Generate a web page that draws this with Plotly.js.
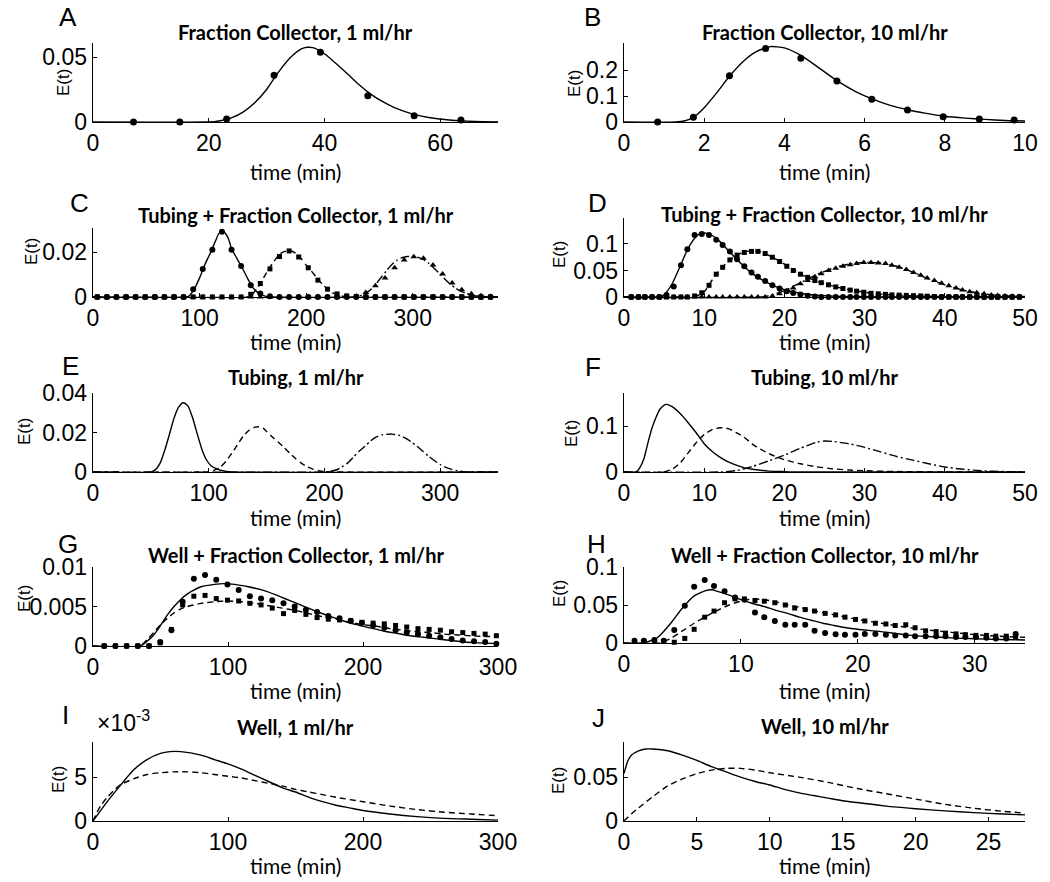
<!DOCTYPE html>
<html>
<head>
<meta charset="utf-8">
<script src="https://cdn.plot.ly/plotly-3.0.1.min.js"></script>
<style>
  html, body { margin: 0; padding: 0; background: #fff; }
  #plot { width: 1050px; height: 882px; }
</style>
</head>
<body>
<div id="plot"></div>
<script>
// ---- data (time in min, E(t)) ----

// A: fraction collector, 1 ml/hr
const aDataT = [7, 15, 23.1, 31.3, 39.3, 47.5, 55.5, 63.6];
const aDataE = [0, 0, 0.0023, 0.036, 0.0536, 0.0202, 0.0049, 0.0015];
const aFitT = [0, 21, 22, 24, 26, 28, 30, 32, 34, 36, 37, 38, 40, 42, 44, 46, 48, 50, 52, 55, 58, 62, 66, 70];
const aFitE = [0, 0.0003, 0.001, 0.0033, 0.0078, 0.015, 0.025, 0.038, 0.049, 0.0562, 0.0575, 0.0572, 0.0525, 0.045, 0.037, 0.0287, 0.0215, 0.0158, 0.0113, 0.0065, 0.0035, 0.0013, 0.0004, 0.0001];

// B: fraction collector, 10 ml/hr
const bDataT = [0.84, 1.73, 2.63, 3.53, 4.41, 5.31, 6.18, 7.07, 7.96, 8.86, 9.73];
const bDataE = [0, 0.018, 0.178, 0.283, 0.245, 0.158, 0.088, 0.046, 0.02, 0.0115, 0.0077];
const bFitT = [0, 1.3, 1.5, 1.75, 2.0, 2.3, 2.65, 3.0, 3.3, 3.65, 4.0, 4.4, 4.8, 5.3, 5.8, 6.2, 6.6, 7.1, 7.5, 8.0, 8.5, 9.0, 9.5, 10];
const bFitE = [0, 0, 0.004, 0.02, 0.055, 0.11, 0.18, 0.237, 0.271, 0.29, 0.285, 0.257, 0.215, 0.16, 0.115, 0.088, 0.066, 0.046, 0.034, 0.022, 0.015, 0.01, 0.006, 0.004];

// C: tubing + fraction collector, 1 ml/hr (three tubing lengths)
const cT = [4, 13, 22, 31, 40, 49, 58, 67, 76, 85, 94, 103, 112, 121, 130, 139, 148, 157, 166, 175, 184, 193, 202, 211, 220, 229, 238, 247, 256, 265, 274, 283, 292, 301, 310, 319, 328, 337, 346, 355, 364, 373];
const cCircE = [0, 0, 0, 0, 0, 0, 0, 0, 0, 0, 0.0035, 0.0125, 0.021, 0.029, 0.021, 0.0138, 0.0052, 0.0016, 0.0003, 0, 0, 0, 0, 0, 0, 0, 0, 0, 0, 0, 0, 0, 0, 0, 0, 0, 0, 0, 0, 0, 0, 0];
const cSqE = [0, 0, 0, 0, 0, 0, 0, 0, 0, 0, 0, 0, 0, 0, 0, 0, 0.0012, 0.006, 0.0125, 0.018, 0.0205, 0.0178, 0.013, 0.0075, 0.0035, 0.0014, 0.0005, 0.0002, 0, 0, 0, 0, 0, 0, 0, 0, 0, 0, 0, 0, 0, 0];
const cTriE = [0, 0, 0, 0, 0, 0, 0, 0, 0, 0, 0, 0, 0, 0, 0, 0, 0, 0, 0, 0, 0, 0, 0, 0, 0, 0, 0, 0.0005, 0.002, 0.005, 0.0085, 0.013, 0.0165, 0.0179, 0.0172, 0.0142, 0.0102, 0.0062, 0.0032, 0.0015, 0.0006, 0.0002];
const cFit1T = [0, 88, 90, 95, 100, 105, 110, 115, 118, 121, 124, 127, 130, 135, 140, 145, 150, 155, 160, 165, 380];
const cFit1E = [0, 0, 0.0004, 0.0035, 0.0085, 0.0145, 0.0195, 0.025, 0.0282, 0.0292, 0.0285, 0.026, 0.0215, 0.0172, 0.013, 0.0083, 0.0042, 0.0018, 0.0006, 0.0001, 0];
const cFit2T = [0, 145, 150, 155, 160, 165, 170, 175, 180, 185, 190, 195, 200, 205, 210, 215, 220, 225, 230, 235, 240, 380];
const cFit2E = [0, 0, 0.0015, 0.0045, 0.0085, 0.0125, 0.016, 0.019, 0.0203, 0.0206, 0.0195, 0.0172, 0.0142, 0.0115, 0.0085, 0.0058, 0.0035, 0.0018, 0.0008, 0.0003, 0, 0];
const cFit3T = [0, 245, 250, 255, 260, 265, 270, 275, 280, 285, 290, 295, 300, 305, 310, 315, 320, 325, 330, 335, 340, 345, 350, 355, 360, 370, 380];
const cFit3E = [0, 0, 0.0005, 0.0015, 0.003, 0.0055, 0.0085, 0.0115, 0.0142, 0.0163, 0.0175, 0.018, 0.018, 0.0176, 0.0167, 0.015, 0.0128, 0.0105, 0.008, 0.0058, 0.004, 0.0026, 0.0016, 0.0009, 0.0005, 0.0001, 0];

// D: tubing + fraction collector, 10 ml/hr
const dT = [0.9, 1.8, 2.6, 3.5, 4.4, 5.3, 6.2, 7.1, 7.9, 8.8, 9.7, 10.6, 11.5, 12.3, 13.2, 14.1, 15, 15.9, 16.7, 17.6, 18.5, 19.4, 20.3, 21.1, 22, 22.9, 23.8, 24.6, 25.5, 26.4, 27.3, 28.2, 29, 29.9, 30.8, 31.7, 32.6, 33.4, 34.3, 35.2, 36.1, 37, 37.8, 38.7, 39.6, 40.5, 41.4, 42.2, 43.1, 44, 44.9, 45.8, 46.6, 47.5, 48.4, 49.3];
const dCircE = [0, 0, 0, 0, 0, 0.004, 0.02, 0.06, 0.09, 0.117, 0.119, 0.117, 0.108, 0.098, 0.086, 0.071, 0.058, 0.046, 0.038, 0.03, 0.022, 0.016, 0.011, 0.0075, 0.0045, 0.0025, 0.001, 0, 0, 0, 0, 0, 0, 0, 0, 0, 0, 0, 0, 0, 0, 0, 0, 0, 0, 0, 0, 0, 0, 0, 0, 0, 0, 0, 0, 0];
const dSqE = [0, 0, 0, 0, 0, 0, 0, 0, 0, 0.002, 0.008, 0.022, 0.043, 0.056, 0.07, 0.079, 0.084, 0.086, 0.086, 0.082, 0.075, 0.067, 0.058, 0.05, 0.043, 0.037, 0.031, 0.027, 0.023, 0.019, 0.016, 0.013, 0.011, 0.009, 0.007, 0.006, 0.005, 0.004, 0.0035, 0.003, 0.0025, 0.002, 0.0015, 0.001, 0, 0, 0, 0, 0, 0, 0, 0, 0, 0, 0, 0];
const dTriE = [0, 0, 0, 0, 0, 0, 0, 0, 0, 0, 0, 0, 0, 0, 0, 0, 0, 0, 0, 0, 0.002, 0.006, 0.011, 0.017, 0.025, 0.031, 0.038, 0.044, 0.05, 0.054, 0.058, 0.061, 0.063, 0.065, 0.065, 0.064, 0.063, 0.06, 0.056, 0.052, 0.046, 0.041, 0.036, 0.031, 0.026, 0.021, 0.017, 0.013, 0.01, 0.008, 0.006, 0.004, 0.003, 0.002, 0.0015, 0.001];
const dFit1T = [0, 4.5, 5, 6, 7, 8, 9, 9.5, 10, 11, 12, 13, 14, 15, 16, 17, 18, 19, 20, 22, 24, 26, 28, 32, 40, 50];
const dFit1E = [0, 0, 0.004, 0.025, 0.058, 0.092, 0.114, 0.12, 0.121, 0.116, 0.104, 0.088, 0.072, 0.057, 0.044, 0.034, 0.026, 0.019, 0.014, 0.007, 0.0035, 0.0017, 0.0008, 0.0002, 0, 0];
const dFit2T = [0, 9, 10, 11, 12, 13, 14, 15, 16, 17, 18, 19, 20, 21, 22, 23, 24, 25, 26, 27, 28, 30, 32, 35, 40, 45, 50];
const dFit2E = [0, 0.002, 0.01, 0.032, 0.052, 0.067, 0.078, 0.085, 0.087, 0.085, 0.079, 0.071, 0.062, 0.053, 0.043, 0.036, 0.03, 0.025, 0.021, 0.017, 0.014, 0.009, 0.0055, 0.0028, 0.0009, 0.0003, 0.0001];
const dFit3T = [0, 17, 18, 20, 22, 24, 26, 28, 30, 32, 34, 36, 38, 40, 42, 44, 46, 48, 50];
const dFit3E = [0, 0, 0.002, 0.012, 0.027, 0.042, 0.054, 0.062, 0.065, 0.064, 0.058, 0.047, 0.034, 0.023, 0.014, 0.008, 0.004, 0.002, 0.001];

// E: tubing only, 1 ml/hr
const eFit1T = [0, 50, 54, 58, 62, 66, 70, 74, 78, 82, 86, 90, 94, 98, 102, 106, 110, 115, 120, 350];
const eFit1E = [0, 0, 0.0012, 0.0045, 0.011, 0.019, 0.0272, 0.0328, 0.0351, 0.0335, 0.0276, 0.0195, 0.0117, 0.0062, 0.0032, 0.0018, 0.0009, 0.0003, 0, 0];
const eFit2T = [0, 95, 100, 105, 110, 115, 120, 125, 130, 135, 140, 143, 147, 150, 155, 160, 165, 170, 175, 180, 185, 190, 195, 200, 350];
const eFit2E = [0, 0, 0.0002, 0.0009, 0.0025, 0.0055, 0.0095, 0.014, 0.0182, 0.0212, 0.0227, 0.0229, 0.0222, 0.0205, 0.0177, 0.0152, 0.0125, 0.0095, 0.0068, 0.0045, 0.0027, 0.0015, 0.0007, 0.0002, 0];
const eFit3T = [0, 200, 205, 210, 215, 220, 225, 230, 235, 240, 245, 250, 258, 265, 270, 275, 280, 285, 290, 295, 300, 305, 310, 315, 320, 325, 350];
const eFit3E = [0, 0, 0.0003, 0.001, 0.0025, 0.0045, 0.0075, 0.0105, 0.013, 0.0158, 0.0178, 0.0188, 0.0192, 0.0185, 0.0172, 0.0153, 0.013, 0.0105, 0.008, 0.0058, 0.0038, 0.0023, 0.0013, 0.0006, 0.0002, 0, 0];

// F: tubing only, 10 ml/hr
const fFit1T = [0, 1.5, 2, 2.5, 3, 3.5, 4, 4.5, 5.2, 6, 7, 8, 9, 10, 11, 12, 13, 14, 15, 16, 18, 20, 22, 50];
const fFit1E = [0, 0, 0.01, 0.03, 0.065, 0.097, 0.12, 0.138, 0.148, 0.143, 0.128, 0.108, 0.086, 0.062, 0.045, 0.032, 0.022, 0.015, 0.009, 0.006, 0.002, 0.0008, 0, 0];
const fFit2T = [0, 5, 6, 7, 8, 9, 10, 11, 12, 13, 14, 15, 16, 17, 18, 19, 20, 22, 24, 26, 28, 30, 34, 40, 50];
const fFit2E = [0, 0, 0.006, 0.02, 0.042, 0.064, 0.082, 0.093, 0.097, 0.095, 0.086, 0.076, 0.061, 0.05, 0.041, 0.033, 0.027, 0.018, 0.0115, 0.007, 0.0045, 0.0028, 0.001, 0.0002, 0];
const fFit3T = [0, 12, 14, 16, 18, 20, 22, 24, 25, 26, 28, 30, 32, 34, 36, 38, 40, 42, 44, 46, 48, 50];
const fFit3E = [0, 0, 0.003, 0.012, 0.024, 0.037, 0.052, 0.065, 0.068, 0.067, 0.062, 0.054, 0.044, 0.034, 0.026, 0.018, 0.011, 0.0065, 0.0035, 0.0017, 0.0007, 0.0003];

// G: well + fraction collector, 1 ml/hr
const gT = [8.3, 16.6, 24.9, 33.2, 41.5, 49.8, 58.1, 66.4, 74.7, 83, 91.3, 99.6, 107.9, 116.2, 124.5, 132.8, 141.1, 149.4, 157.7, 166, 174.3, 182.6, 190.9, 199.2, 207.5, 215.8, 224.1, 232.4, 240.7, 249, 257.3, 265.6, 273.9, 282.2, 290.5, 298.8];
const gCircE = [0, 0, 0, 0, 0, 0.0005, 0.002, 0.0056, 0.0085, 0.009, 0.0084, 0.0078, 0.0071, 0.0063, 0.006, 0.0058, 0.0054, 0.005, 0.0046, 0.0043, 0.0038, 0.0035, 0.0032, 0.0029, 0.0026, 0.0023, 0.002, 0.0017, 0.0015, 0.0013, 0.0011, 0.0009, 0.0007, 0.0006, 0.0005, 0.0003];
const gSqE = [0, 0, 0, 0, 0, 0.0004, 0.0021, 0.0052, 0.0063, 0.0064, 0.006, 0.0058, 0.0057, 0.0054, 0.0052, 0.0048, 0.0041, 0.0045, 0.004, 0.0036, 0.0034, 0.0033, 0.0032, 0.003, 0.0029, 0.0028, 0.0026, 0.0024, 0.0022, 0.0021, 0.002, 0.0018, 0.0017, 0.0016, 0.0015, 0.0013];
const gFit1T = [0, 35, 40, 45, 50, 55, 60, 65, 70, 75, 80, 90, 97, 105, 115, 125, 135, 145, 155, 165, 175, 185, 195, 205, 215, 225, 235, 245, 255, 265, 275, 285, 300];
const gFit1E = [0, 0, 0.0006, 0.0014, 0.0026, 0.0039, 0.005, 0.0059, 0.0066, 0.0071, 0.0075, 0.0078, 0.0079, 0.0078, 0.0075, 0.0071, 0.0065, 0.0058, 0.0051, 0.0044, 0.0038, 0.0032, 0.0027, 0.0023, 0.0019, 0.0016, 0.0013, 0.0011, 0.0009, 0.0007, 0.0005, 0.0004, 0.0003];
const gFit2T = [0, 35, 40, 45, 50, 55, 60, 65, 70, 80, 90, 100, 110, 120, 130, 140, 150, 160, 170, 180, 190, 200, 210, 220, 230, 240, 250, 260, 270, 280, 290, 300];
const gFit2E = [0, 0, 0.0008, 0.0017, 0.0027, 0.0035, 0.0042, 0.0047, 0.005, 0.0054, 0.0056, 0.0057, 0.0056, 0.0054, 0.0051, 0.0048, 0.0045, 0.0041, 0.0037, 0.0034, 0.003, 0.0027, 0.0025, 0.0022, 0.002, 0.0018, 0.0017, 0.0015, 0.0014, 0.0013, 0.0012, 0.0012];

// H: well + fraction collector, 10 ml/hr
const hT = [0.9, 1.7, 2.6, 3.4, 4.3, 5.2, 6.0, 6.9, 7.7, 8.6, 9.5, 10.3, 11.2, 12.0, 12.9, 13.8, 14.6, 15.5, 16.3, 17.2, 18.1, 18.9, 19.8, 20.6, 21.5, 22.4, 23.2, 24.1, 24.9, 25.8, 26.7, 27.5, 28.4, 29.2, 30.1, 31.0, 31.8, 32.7, 33.5];
const hCircE = [0.003, 0.003, 0.004, 0.003, 0.017, 0.049, 0.074, 0.083, 0.075, 0.068, 0.06, 0.057, 0.04, 0.034, 0.029, 0.024, 0.024, 0.024, 0.016, 0.013, 0.0115, 0.011, 0.011, 0.012, 0.012, 0.011, 0.01, 0.01, 0.009, 0.009, 0.009, 0.009, 0.008, 0.008, 0.008, 0.007, 0.006, 0.006, 0.012];
const hSqE = [0.002, 0.002, 0.002, 0.002, 0.001, 0.006, 0.018, 0.034, 0.042, 0.053, 0.058, 0.058, 0.056, 0.055, 0.053, 0.05, 0.046, 0.044, 0.042, 0.039, 0.037, 0.034, 0.031, 0.029, 0.026, 0.025, 0.023, 0.024, 0.02, 0.016, 0.015, 0.013, 0.012, 0.011, 0.01, 0.01, 0.009, 0.009, 0.008];
const hFit1T = [0, 1.5, 2.5, 3, 4, 5, 6, 7, 7.5, 8, 9, 10, 11, 12, 13, 14, 15, 16, 17, 18, 19, 20, 22, 24, 26, 28, 30, 32, 34.3];
const hFit1E = [0, 0, 0.004, 0.009, 0.026, 0.046, 0.062, 0.069, 0.07, 0.068, 0.063, 0.057, 0.052, 0.048, 0.043, 0.039, 0.034, 0.03, 0.026, 0.023, 0.02, 0.018, 0.015, 0.011, 0.0085, 0.0068, 0.0055, 0.0047, 0.004];
const hFit2T = [0, 3, 4, 5, 6, 7, 8, 9, 10, 11, 12, 13, 14, 15, 16, 17, 18, 19, 20, 22, 24, 26, 28, 30, 32, 34.3];
const hFit2E = [0, 0, 0.006, 0.016, 0.026, 0.035, 0.043, 0.05, 0.055, 0.058, 0.057, 0.054, 0.05, 0.047, 0.043, 0.04, 0.037, 0.034, 0.031, 0.026, 0.021, 0.017, 0.014, 0.011, 0.009, 0.0075];

// I: well only, 1 ml/hr
const iFit1T = [0, 10, 20, 30, 40, 50, 57, 65, 80, 90, 100, 110, 120, 130, 140, 150, 160, 170, 180, 190, 200, 220, 240, 260, 280, 300];
const iFit1E = [0, 0.0021, 0.004, 0.0058, 0.007, 0.0077, 0.0079, 0.0079, 0.0075, 0.007, 0.0065, 0.0059, 0.0052, 0.0045, 0.0038, 0.0033, 0.0027, 0.0022, 0.0018, 0.0015, 0.0012, 0.0008, 0.0005, 0.0003, 0.0002, 0.0001];
const iFit2T = [0, 3, 6, 10, 15, 20, 30, 40, 50, 60, 70, 80, 90, 100, 110, 120, 130, 140, 150, 160, 170, 180, 200, 220, 240, 260, 280, 300];
const iFit2E = [0, 0.001, 0.0018, 0.0026, 0.0034, 0.0041, 0.0048, 0.0053, 0.0055, 0.0056, 0.0056, 0.0055, 0.0053, 0.0051, 0.0049, 0.0046, 0.0043, 0.004, 0.0036, 0.0033, 0.003, 0.0027, 0.0022, 0.0017, 0.0013, 0.001, 0.0008, 0.0006];

// J: well only, 10 ml/hr
const jFit1T = [0, 0.25, 0.5, 1, 1.5, 2, 3, 4, 5, 6, 7, 8, 9, 10, 11, 12, 13, 14, 15, 16, 17, 18, 19, 20, 22, 24, 26, 27.5];
const jFit1E = [0.054, 0.068, 0.075, 0.08, 0.082, 0.082, 0.08, 0.075, 0.069, 0.062, 0.056, 0.05, 0.045, 0.041, 0.036, 0.032, 0.029, 0.026, 0.023, 0.021, 0.019, 0.017, 0.0155, 0.014, 0.0115, 0.0095, 0.008, 0.007];
const jFit2T = [0, 0.5, 1, 2, 3, 4, 5, 6, 7, 8, 9, 10, 12, 14, 16, 18, 20, 22, 24, 26, 27.5];
const jFit2E = [0, 0.008, 0.015, 0.028, 0.04, 0.048, 0.054, 0.058, 0.06, 0.06, 0.058, 0.055, 0.05, 0.044, 0.037, 0.031, 0.025, 0.019, 0.0145, 0.011, 0.009];

// ---- panel layout (pixel boxes on the 1050x882 page) ----
const W = 1050, H = 882;
const panels = [
  { letter: 'A', title: 'Fraction Collector, 1 ml/hr', xr: [0, 70], yr: [0, 0.0608], xt: [0, 20, 40, 60], yt: [0, 0.05],
    box: [93, 498, 43, 122], lpos: [68, 17], tpos: 32, epos: [63, 83], xlab: 171 },
  { letter: 'B', title: 'Fraction Collector, 10 ml/hr', xr: [0, 10], yr: [0, 0.304], xt: [0, 2, 4, 6, 8, 10], yt: [0, 0.1, 0.2],
    box: [624, 1025, 43, 122], lpos: [592, 17], tpos: 32, epos: [574, 84], xlab: 171 },
  { letter: 'C', title: 'Tubing + Fraction Collector, 1 ml/hr', xr: [0, 380], yr: [0, 0.0307], xt: [0, 100, 200, 300], yt: [0, 0.02],
    box: [93, 498, 228, 297], lpos: [79, 203], tpos: 215, epos: [31, 252], xlab: 341 },
  { letter: 'D', title: 'Tubing + Fraction Collector, 10 ml/hr', xr: [0, 50], yr: [0, 0.149], xt: [0, 10, 20, 30, 40, 50], yt: [0, 0.05, 0.1],
    box: [624, 1025, 218, 297], lpos: [597, 203], tpos: 214, epos: [559, 255], xlab: 341 },
  { letter: 'E', title: 'Tubing, 1 ml/hr', xr: [0, 350], yr: [0, 0.04], xt: [0, 100, 200, 300], yt: [0, 0.02, 0.04],
    box: [93, 498, 393, 472], lpos: [70, 366], tpos: 377, epos: [24, 432], xlab: 517 },
  { letter: 'F', title: 'Tubing, 10 ml/hr', xr: [0, 50], yr: [0, 0.173], xt: [0, 10, 20, 30, 40, 50], yt: [0, 0.1],
    box: [624, 1025, 393, 472], lpos: [593, 367], tpos: 377, epos: [571, 434], xlab: 517 },
  { letter: 'G', title: 'Well + Fraction Collector, 1 ml/hr', xr: [0, 300], yr: [0, 0.01], xt: [0, 100, 200, 300], yt: [0, 0.005, 0.01],
    box: [93, 498, 567, 646], lpos: [68, 544], tpos: 555, epos: [24, 599], xlab: 690 },
  { letter: 'H', title: 'Well + Fraction Collector, 10 ml/hr', xr: [0, 34.3], yr: [0, 0.1], xt: [0, 10, 20, 30], yt: [0, 0.05, 0.1],
    box: [624, 1025, 567, 643], lpos: [596, 544], tpos: 555, epos: [559, 594], xlab: 690 },
  { letter: 'I', title: 'Well, 1 ml/hr', xr: [0, 300], yr: [0, 0.009], xt: [0, 100, 200, 300], yt: [0, 0.005], ytext: ['0', '5'],
    box: [93, 498, 742, 821], lpos: [65, 715], tpos: 727, epos: [58, 780], xlab: 865 },
  { letter: 'J', title: 'Well, 10 ml/hr', xr: [0, 27.5], yr: [0, 0.09], xt: [0, 5, 10, 15, 20, 25], yt: [0, 0.05],
    box: [624, 1025, 742, 821], lpos: [598, 718], tpos: 726, epos: [558, 781], xlab: 865 }
];

const DASH = '6px,4px';
const DASHDOT = '9px,3px,2px,3px';

function axKey(n) { return n === 1 ? '' : String(n); }

function fit(n, t, e, dash) {
  return {
    type: 'scatter', mode: 'lines', x: t, y: e,
    xaxis: 'x' + axKey(n), yaxis: 'y' + axKey(n),
    line: { color: 'black', width: 1.4, dash: dash || 'solid', shape: 'spline', smoothing: 0.6 },
    hoverinfo: 'skip'
  };
}

function dots(n, t, e, symbol, size) {
  return {
    type: 'scatter', mode: 'markers', x: t, y: e,
    xaxis: 'x' + axKey(n), yaxis: 'y' + axKey(n),
    marker: { symbol: symbol, size: size, color: 'black', line: { width: 0 } },
    cliponaxis: false, hoverinfo: 'skip'
  };
}

const data = [
  fit(1, aFitT, aFitE), dots(1, aDataT, aDataE, 'circle', 7),
  fit(2, bFitT, bFitE), dots(2, bDataT, bDataE, 'circle', 7),

  fit(3, cFit1T, cFit1E), fit(3, cFit2T, cFit2E, DASH), fit(3, cFit3T, cFit3E, DASHDOT),
  dots(3, cT, cCircE, 'circle', 6), dots(3, cT, cSqE, 'square', 5), dots(3, cT, cTriE, 'triangle-up', 6),

  fit(4, dFit1T, dFit1E), fit(4, dFit2T, dFit2E, DASH), fit(4, dFit3T, dFit3E, DASHDOT),
  dots(4, dT, dCircE, 'circle', 6), dots(4, dT, dSqE, 'square', 5), dots(4, dT, dTriE, 'triangle-up', 6),

  fit(5, eFit1T, eFit1E), fit(5, eFit2T, eFit2E, DASH), fit(5, eFit3T, eFit3E, DASHDOT),
  fit(6, fFit1T, fFit1E), fit(6, fFit2T, fFit2E, DASH), fit(6, fFit3T, fFit3E, DASHDOT),

  fit(7, gFit1T, gFit1E), fit(7, gFit2T, gFit2E, DASH),
  dots(7, gT, gCircE, 'circle', 6), dots(7, gT, gSqE, 'square', 5),

  fit(8, hFit1T, hFit1E), fit(8, hFit2T, hFit2E, DASH),
  dots(8, hT, hCircE, 'circle', 6), dots(8, hT, hSqE, 'square', 5),

  fit(9, iFit1T, iFit1E), fit(9, iFit2T, iFit2E, DASH),
  fit(10, jFit1T, jFit1E), fit(10, jFit2T, jFit2E, DASH)
];

const tickFont = { family: 'Liberation Sans, Arial, sans-serif', size: 23, color: 'black' };
const layout = {
  width: W, height: H,
  margin: { l: 0, r: 0, t: 0, b: 0 },
  paper_bgcolor: 'white', plot_bgcolor: 'white',
  showlegend: false, hovermode: false,
  annotations: []
};

panels.forEach((p, i) => {
  const n = i + 1, k = axKey(n);
  const [x0, x1, y0, y1] = p.box;
  layout['xaxis' + k] = {
    domain: [x0 / W, x1 / W], range: p.xr, anchor: 'y' + k,
    tickmode: 'array', tickvals: p.xt,
    showline: true, linecolor: 'black', linewidth: 1.4, mirror: false,
    ticks: 'inside', ticklen: 4, tickcolor: 'black',
    showgrid: false, zeroline: false, tickfont: tickFont, fixedrange: true
  };
  const yax = {
    domain: [1 - y1 / H, 1 - y0 / H], range: p.yr, anchor: 'x' + k,
    tickmode: 'array', tickvals: p.yt,
    showline: true, linecolor: 'black', linewidth: 1.4, mirror: false,
    ticks: 'inside', ticklen: 4, tickcolor: 'black',
    showgrid: false, zeroline: false, tickfont: tickFont, fixedrange: true
  };
  if (p.ytext) yax.ticktext = p.ytext;
  layout['yaxis' + k] = yax;
  const cx = (x0 + x1) / 2;
  layout.annotations.push(
    { text: p.letter, x: p.lpos[0] / W, y: 1 - p.lpos[1] / H, xref: 'paper', yref: 'paper',
      showarrow: false, xanchor: 'center', yanchor: 'middle',
      font: { family: 'Liberation Sans, Arial, sans-serif', size: 26, color: 'black' } },
    { text: '<b>' + p.title + '</b>', x: cx / W, y: 1 - p.tpos / H, xref: 'paper', yref: 'paper',
      showarrow: false, xanchor: 'center', yanchor: 'middle',
      font: { family: 'Lato, Open Sans, sans-serif', size: 20, color: 'black' } },
    { text: 'E(t)', x: p.epos[0] / W, y: 1 - p.epos[1] / H, xref: 'paper', yref: 'paper',
      showarrow: false, xanchor: 'center', yanchor: 'middle', textangle: -90,
      font: { family: 'Liberation Sans, Arial, sans-serif', size: 17, color: 'black' } },
    { text: 'time (min)', x: cx / W, y: 1 - p.xlab / H, xref: 'paper', yref: 'paper',
      showarrow: false, xanchor: 'center', yanchor: 'middle',
      font: { family: 'Lato, Open Sans, sans-serif', size: 21, color: 'black' } }
  );
});

// exponent label of panel I
layout.annotations.push({
  text: '\u00d710<sup>-3</sup>', x: 95 / W, y: 1 - 721 / H, xref: 'paper', yref: 'paper',
  showarrow: false, xanchor: 'left', yanchor: 'middle',
  font: { family: 'Liberation Sans, Arial, sans-serif', size: 23, color: 'black' }
});

Plotly.newPlot('plot', data, layout, { staticPlot: true });
</script>
</body>
</html>
